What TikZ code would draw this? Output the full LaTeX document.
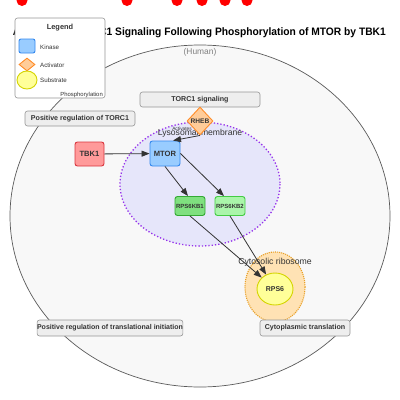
\documentclass[tikz,border=0pt]{standalone}
\usepackage{graphicx}
\usepackage{fontspec}
\setmainfont{Liberation Sans}
\usetikzlibrary{shapes.geometric,arrows.meta}
\definecolor{cellfill}{RGB}{248,248,248}
\definecolor{cellline}{RGB}{90,90,90}
\definecolor{lysofill}{RGB}{230,230,250}
\definecolor{lysoline}{RGB}{150,50,235}
\definecolor{ribofill}{RGB}{255,226,180}
\definecolor{riboline}{RGB}{232,160,40}
\definecolor{boxfill}{RGB}{238,238,238}
\definecolor{boxline}{RGB}{150,150,150}
\definecolor{kinfill}{RGB}{153,204,255}
\definecolor{kinline}{RGB}{51,136,238}
\definecolor{actfill}{RGB}{255,204,153}
\definecolor{actline}{RGB}{255,140,40}
\definecolor{subfill}{RGB}{255,255,153}
\definecolor{subline}{RGB}{212,212,0}
\definecolor{tbkfill}{RGB}{255,154,154}
\definecolor{tbkline}{RGB}{217,54,62}
\definecolor{kbafill}{RGB}{127,224,127}
\definecolor{kbaline}{RGB}{51,170,51}
\definecolor{kbbfill}{RGB}{170,245,170}
\definecolor{kbbline}{RGB}{68,204,68}
\definecolor{txt}{RGB}{51,51,51}
\definecolor{edge}{RGB}{51,51,51}
\tikzset{
  procbox/.style={draw=boxline, fill=boxfill, rounded corners=2.5pt, line width=0.6pt,
    minimum height=15pt, inner sep=0pt, font=\fontsize{7.1}{8}\selectfont\bfseries, text=txt},
  genebox/.style={rounded corners=2.5pt, line width=0.9pt, inner sep=0pt,
    font=\fontsize{7.6}{8}\selectfont\bfseries, text=txt},
  smallgene/.style={genebox, minimum width=30pt, minimum height=19pt, font=\fontsize{6}{7}\selectfont\bfseries},
  rel/.style={draw=edge, line width=0.8pt, -{Triangle[length=8pt,width=6pt]}},
  dotred/.style={fill=red, draw=none},
  legtxt/.style={font=\fontsize{6.2}{7}\selectfont, text=txt, anchor=west, inner sep=0pt},
}
\begin{document}
\begin{tikzpicture}[x=1pt,y=-1pt]
\useasboundingbox (0,0) rectangle (400,400);
% red dots
\foreach \xx in {22,127,177,202,225,247}
  \fill[dotred] (\xx,0.5) circle (5.5);
% title
\node[anchor=east, font=\fontsize{10.8}{12}\selectfont\bfseries, inner sep=0pt] (title) at (386,33)
  {\scalebox{0.95}[1]{Activation of TORC1 Signaling Following Phosphorylation of MTOR by TBK1}};
% cell
\draw[fill=cellfill, draw=cellline, line width=0.7pt] (200,216) ellipse [x radius=190, y radius=171];
\node[font=\fontsize{8.4}{9}\selectfont, text=gray, inner sep=0pt] (human) at (200,52) {(Human)};
% compartments
\draw[fill=lysofill, draw=lysoline, line width=1.3pt, dotted] (200,184) ellipse [x radius=80, y radius=62];
\draw[fill=ribofill, draw=riboline, line width=1.1pt, densely dotted] (275,287) ellipse [x radius=30, y radius=35];
% process boxes
\node[procbox, minimum width=120pt] (torc) at (200,99.5) {TORC1 signaling};
\node[procbox, minimum width=110pt] (posreg) at (80,118.5) {Positive regulation of TORC1};
\node[procbox, minimum width=140pt, minimum height=16pt, font=\fontsize{7}{8}\selectfont\bfseries] (postrans) at (110,328) {Positive regulation of translational initiation};
\node[procbox, minimum width=90pt, minimum height=16pt] (cyto) at (305,328) {Cytoplasmic translation};
% genes
\node[genebox, draw=tbkline, fill=tbkfill, minimum width=29pt, minimum height=24pt] (TBK1) at (89.5,154) {TBK1};
\node[genebox, draw=kinline, fill=kinfill, minimum width=30pt, minimum height=25pt] (MTOR) at (165,153.5) {MTOR};
\node[smallgene, draw=kbaline, fill=kbafill] (KB1) at (190,206) {RPS6KB1};
\node[smallgene, draw=kbbline, fill=kbbfill] (KB2) at (230,206) {RPS6KB2};
\node[ellipse, draw=subline, fill=subfill, line width=0.9pt, minimum width=36pt, minimum height=32pt, inner sep=0pt,
  font=\fontsize{7}{8}\selectfont\bfseries, text=txt] (RPS6) at (275,289) {RPS6};
% compartment labels
\node[font=\fontsize{8.6}{9}\selectfont, text=txt, inner sep=0pt] (lysolab) at (200,133) {Lysosomal membrane};
\node[font=\fontsize{8.7}{9}\selectfont, text=txt, inner sep=0pt] (ribolab) at (275,262) {Cytosolic ribosome};
\node[diamond, aspect=0.93, draw=actline, fill=actfill, line width=0.9pt, minimum width=26pt, minimum height=28pt, inner sep=0pt,
  font=\fontsize{6.6}{7}\selectfont\bfseries, text=txt] (RHEB) at (200,121) {RHEB};
\node[font=\fontsize{4.8}{5}\selectfont, text=txt, inner sep=0pt] (actlab) at (182,128.5) {Activates};
% edges
\draw[rel] (TBK1) -- (MTOR);
\draw[rel] (RHEB.south) -- ([xshift=8pt]MTOR.north);
\draw[rel] (MTOR.south) -- ([xshift=-2pt]KB1.north);
\draw[rel] (MTOR.east) -- ([xshift=-6pt]KB2.north);
\draw[rel] (KB1.south) -- (RPS6);
\draw[rel] (KB2.south) -- (RPS6);
% legend
\node[draw=boxline, fill=white, rounded corners=2.5pt, line width=0.6pt, minimum width=90pt, minimum height=80pt, inner sep=0pt] (legend) at (60,58) {};
\node[font=\fontsize{7.4}{8}\selectfont\bfseries, text=txt, inner sep=0pt] (legtitle) at (60,28) {Legend};
\node[draw=kinline, fill=kinfill, rounded corners=2pt, line width=0.9pt, minimum width=16pt, minimum height=14pt, inner sep=0pt] (legkin) at (27,46) {};
\node[legtxt] (legkintxt) at (40,47) {Kinase};
\node[diamond, draw=actline, fill=actfill, line width=0.9pt, minimum width=16pt, minimum height=13pt, inner sep=0pt] (legact) at (27,64.5) {};
\node[legtxt] (legacttxt) at (40,65) {Activator};
\node[ellipse, draw=subline, fill=subfill, line width=0.9pt, minimum width=20pt, minimum height=18pt, inner sep=0pt] (legsub) at (27,80) {};
\node[legtxt] (legsubtxt) at (40,80) {Substrate};
\node[font=\fontsize{5.9}{6}\selectfont, text=txt, anchor=east, inner sep=0pt] (legphos) at (103,95) {Phosphorylation};
\end{tikzpicture}
\end{document}
